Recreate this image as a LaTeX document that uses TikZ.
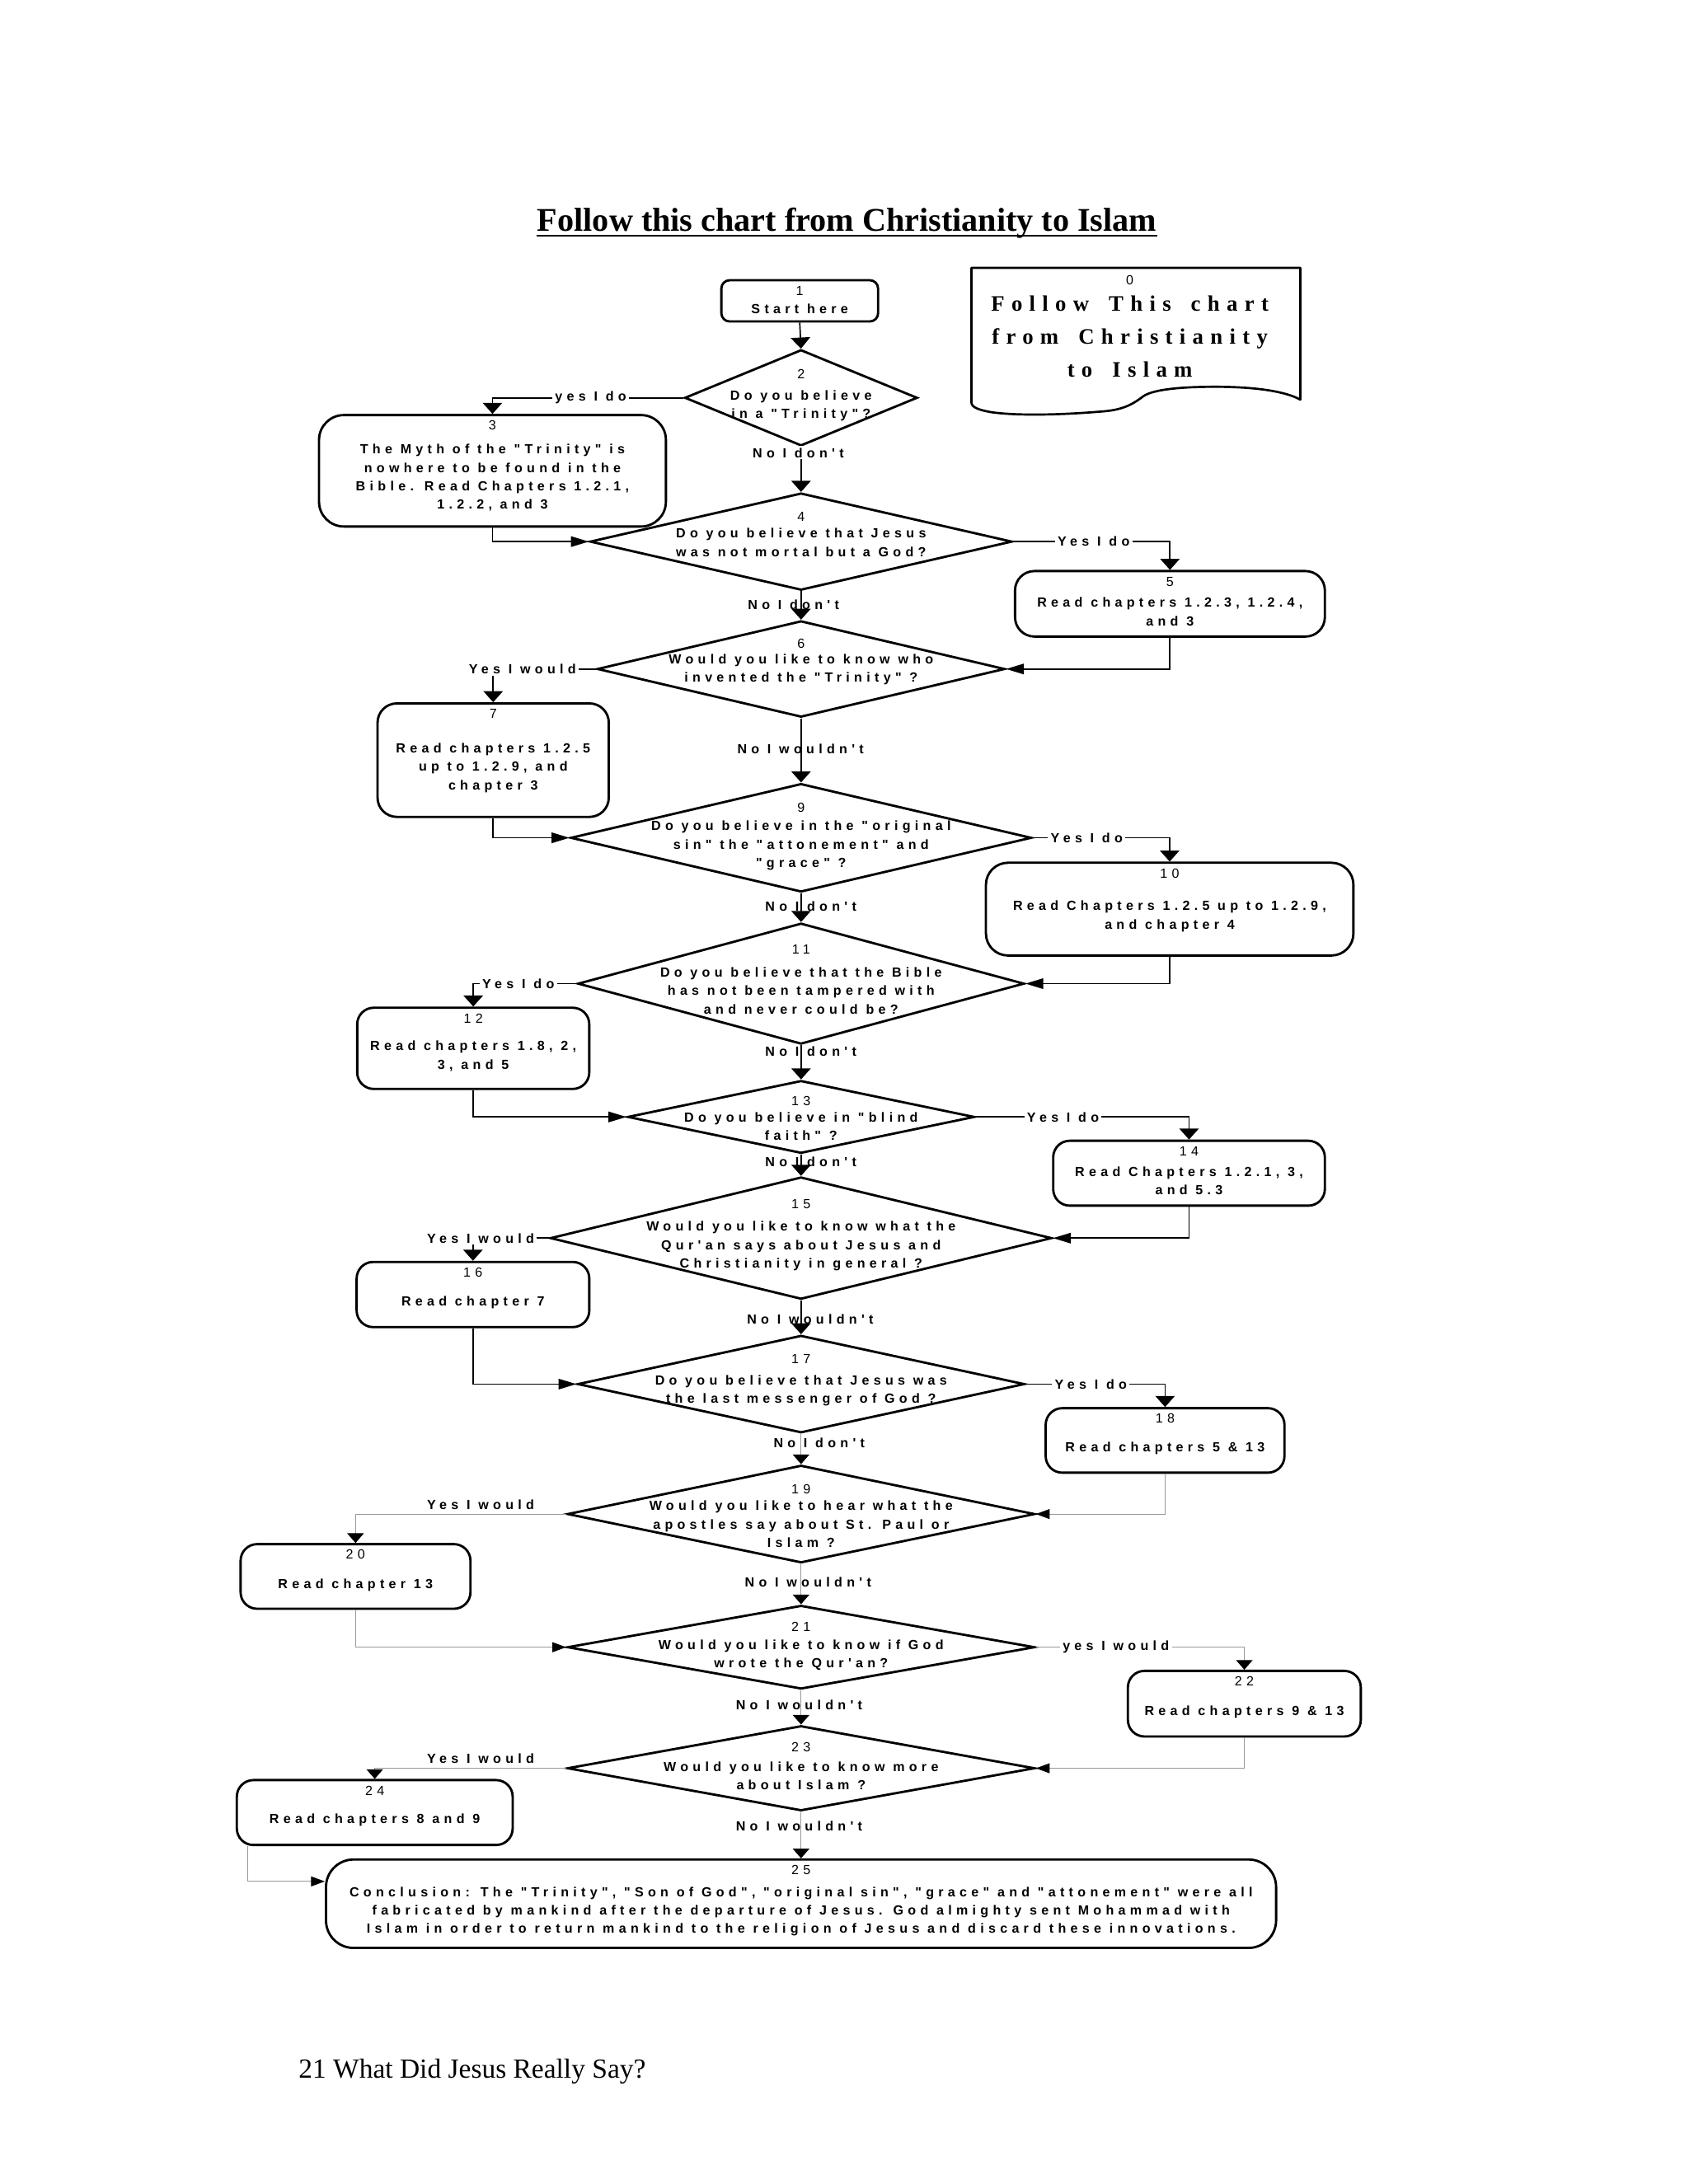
\documentclass[tikz,border=0pt]{standalone}
\usepackage{fontspec}
\usetikzlibrary{shapes.geometric,arrows.meta,calc}
\newfontfamily\chartfont[LetterSpace=33,Ligatures=TeXOff]{Liberation Sans}
\newfontfamily\docfont[LetterSpace=31,WordSpace=1.6,Ligatures=TeXOff]{Liberation Serif}
\newfontfamily\timesfont{Liberation Serif}
\tikzset{
  x=0.50495pt, y=-0.50495pt,
  rbox/.style={draw, line width=0.85pt, rounded corners=6pt, inner sep=0pt},
  diam/.style={draw, diamond, line width=0.85pt, inner sep=0pt},
  txt/.style={font=\chartfont\bfseries\fontsize{4.8}{6.67}\selectfont, align=center, inner sep=0pt},
  num/.style={font=\chartfont\fontsize{4.8}{6.67}\selectfont, inner sep=0pt},
  lab/.style={txt, fill=white, inner xsep=1pt, inner ysep=0.6pt},
  labn/.style={txt},
  conv/.style={line width=0.5pt, -{Triangle[length=4pt,width=7pt]}},
  conh/.style={line width=0.5pt, -{Triangle[length=6.5pt,width=3.8pt]}},
  thv/.style={line width=0.3pt, draw=black!40, -{Triangle[length=3.5pt,width=6pt,color=black,fill=black]}},
  thh/.style={line width=0.3pt, draw=black!40, -{Triangle[length=5pt,width=3.6pt,color=black,fill=black]}},
}
% [style]{name}{left}{top}{right}{bottom}{number}{text y}{text}
\newcommand\rbox[9][]{%
  \node[rbox,#1,minimum width={(#5-#3)*0.50495pt},minimum height={(#6-#4)*0.50495pt}] (#2) at ({(#3+#5)/2},{(#4+#6)/2}) {};
  \node[num] (#2n) at ({(#3+#5)/2},{#4+7.5}) {#7};
  \node[txt] (#2t) at ({(#3+#5)/2},#8) {#9};
}
% {name}{cx}{cy}{half w}{half h}{num y}{num}{text y}{text}
\newcommand\diam[9]{%
  \node[diam,minimum width={2*#4*0.50495pt},minimum height={2*#5*0.50495pt}] (#1) at (#2,#3) {};
  \node[num] (#1n) at (#2,#6) {#7};
  \node[txt] (#1t) at (#2,#8) {#9};
}
\begin{document}
\begin{tikzpicture}
\path[use as bounding box, fill=white] (0,0) rectangle (1212,1568);

% title and footer
\node[font=\timesfont\bfseries\fontsize{12}{14}\selectfont, inner sep=0pt, anchor=base] (title) at (608,165.7) {Follow this chart from Christianity to Islam};
\draw[line width=0.6pt] ([yshift=-1.7pt]title.base west) -- ([yshift=-1.7pt]title.base east);
\node[font=\timesfont\fontsize{10}{12}\selectfont, inner sep=0pt, anchor=base west] (footer) at (214,1492) {21 What Did Jesus Really Say?};

% node 0 (document shape)
\draw[line width=0.8pt, line join=round] (697.3,192.3) -- (933.4,192.3) -- (933.4,287)
  .. controls (925,282) and (905,277.5) .. (870,277.7)
  .. controls (845,277.8) and (826,280) .. (820,285)
  .. controls (812,291) and (805,294.5) .. (790,295.5)
  .. controls (760,298) and (730,298.5) .. (712,296)
  .. controls (703,294.5) and (697.3,292.5) .. (697.3,289) -- cycle;
\node[num] (N0n) at (811,201) {0};
\node[font=\docfont\bfseries\fontsize{8}{12}\selectfont, align=center, inner sep=0pt] (N0t) at (811,241.6) {Follow This chart\\from Christianity\\to Islam};

% boxes
\rbox[rounded corners=3pt]{N1}{517.8}{201.2}{630.3}{230.8}{1}{222}{Start here}
\rbox[rounded corners=9pt]{N3}{229}{298}{478}{378}{3}{343}{The Myth of the "Trinity" is\\nowhere to be found in the\\Bible.  Read Chapters 1.2.1,\\1.2.2, and 3}
\rbox[rounded corners=7pt]{N5}{728.6}{410}{951}{457}{5}{439.2}{Read chapters 1.2.3, 1.2.4,\\and 3}
\rbox[rounded corners=7pt]{N7}{271}{505}{437}{586.5}{7}{551.2}{Read chapters 1.2.5\\up to 1.2.9, and\\chapter 3}
\rbox[rounded corners=8pt]{N10}{707.7}{619.4}{971.5}{686}{10}{657.9}{Read Chapters 1.2.5 up to 1.2.9,\\and chapter 4}
\rbox{N12}{256.4}{723.5}{423}{781.8}{12}{758.2}{Read chapters 1.8, 2,\\3, and 5}
\rbox{N14}{756}{819}{951}{865.6}{14}{847.9}{Read Chapters 1.2.1, 3,\\and 5.3}
\rbox{N16}{256}{906}{423}{952.8}{16}{935}{Read chapter 7}
\rbox{N18}{750.6}{1011}{922}{1057.3}{18}{1039.6}{Read chapters 5 \& 13}
\rbox{N20}{172.7}{1108.6}{337.7}{1155}{20}{1137.8}{Read chapter 13}
\rbox{N22}{809.6}{1199.6}{976.8}{1246.7}{22}{1229}{Read chapters 9 \& 13}
\rbox{N24}{170}{1278}{368}{1324.6}{24}{1306.9}{Read chapters 8 and 9}
\rbox[rounded corners=10pt]{N25}{234}{1335}{916}{1398.5}{25}{1372.3}{Conclusion: The "Trinity", "Son of God", "original sin", "grace" and "attonement" were all\\fabricated by mankind after the departure of Jesus.  God almighty sent Mohammad with\\Islam in order to return mankind to the religion of Jesus and discard these innovations.}

% diamonds
\diam{D2}{575}{285.6}{83.5}{34.5}{268.3}{2}{291.5}{Do you believe\\in a "Trinity"?}
\diam{D4}{575}{388.85}{151.5}{34.85}{370.9}{4}{389.4}{Do you believe that Jesus\\was not mortal but a God?}
\diam{D6}{575}{480.3}{146.3}{34.55}{462}{6}{480.8}{Would you like to know who\\invented the "Trinity" ?}
\diam{D9}{575}{601.5}{165.4}{38.9}{580}{9}{607.1}{Do you believe in the "original\\sin" the "attonement" and\\"grace" ?}
\diam{D11}{575}{706.2}{160.2}{43.4}{681.5}{11}{711.3}{Do you believe that the Bible\\has not been tampered with\\and never could be?}
\diam{D13}{575}{801.9}{124.5}{26.1}{790.6}{13}{808.8}{Do you believe in "blind\\faith" ?}
\diam{D15}{575}{888.9}{180}{43.85}{864.4}{15}{894.6}{Would you like to know what the\\Qur'an says about Jesus and\\Christianity in general ?}
\diam{D17}{575}{993.7}{160.4}{34.95}{975.5}{17}{998.6}{Do you believe that Jesus was\\the last messenger of God ?}
\diam{D19}{575}{1087}{167.75}{35}{1069.2}{19}{1094.3}{Would you like to hear what the\\apostles say about St. Paul or\\Islam ?}
\diam{D21}{575}{1182.6}{167.75}{30}{1168.2}{21}{1188.1}{Would you like to know if God\\wrote the Qur'an?}
\diam{D23}{575}{1269.5}{167.75}{30.5}{1254.6}{23}{1275}{Would you like to know more\\about Islam ?}

% connectors (black)
\draw[conv] (N1.south) -- (D2.north);
\draw[conv] (D2.west) -| (N3.north);
\draw[conv] (D2.south) -- (D4.north);
\draw[conh] (N3.south) |- (D4.west);
\draw[conv] (D4.east) -| (N5.north);
\draw[conv] (D4.south) -- (D6.north);
\draw[conh] (N5.south) |- (D6.east);
\draw[conv] (D6.west) -| (N7.north);
\draw[conv] (D6.south) -- (D9.north);
\draw[conh] (N7.south) |- (D9.west);
\draw[conv] (D9.east) -| (N10.north);
\draw[conv] (D9.south) -- (D11.north);
\draw[conh] (N10.south) |- (D11.east);
\draw[conv] (D11.west) -| (N12.north);
\draw[conv] (D11.south) -- (D13.north);
\draw[conh] (N12.south) |- (D13.west);
\draw[conv] (D13.east) -| (N14.north);
\draw[conv] (D13.south) -- (D15.north);
\draw[conh] (N14.south) |- (D15.east);
\draw[conv] (D15.west) -| (N16.north);
\draw[conv] (D15.south) -- (D17.north);
\draw[conh] (N16.south) |- (D17.west);
\draw[conv] (D17.east) -| (N18.north);
% connectors (thin grey)
\draw[thv] (D17.south) -- (D19.north);
\draw[thh] (N18.south) |- (D19.east);
\draw[thv] (D19.west) -| (N20.north);
\draw[thv] (D19.south) -- (D21.north);
\draw[thh] (N20.south) |- (D21.west);
\draw[thv] (D21.east) -| (N22.north);
\draw[thv] (D21.south) -- (D23.north);
\draw[thh] (N22.south) |- (D23.east);
\draw[thv] (D23.west) -| (N24.north);
\draw[thv] (D23.south) -- (N25.north);
\draw[thh] (N24.south west) ++(8.5,0) |- ($(N25.west)+(0,-16)$);

% connector labels
\node[lab] (L2y) at (424,285.6) {yes I do};
\node[lab] (L2n) at (573,325) {No I don't};
\node[lab] (L4y) at (785,388.85) {Yes I do};
\node[labn] (L4n) at (569.6,434) {No I don't};
\node[lab] (L6y) at (375,480.3) {Yes I would};
\node[labn] (L6n) at (574.6,538) {No I wouldn't};
\node[lab] (L9y) at (780,601.5) {Yes I do};
\node[labn] (L9n) at (582,651) {No I don't};
\node[lab] (L11y) at (372,706.2) {Yes I do};
\node[labn] (L11n) at (582,755) {No I don't};
\node[lab] (L13y) at (763,801.9) {Yes I do};
\node[labn] (L13n) at (582,834) {No I don't};
\node[lab] (L15y) at (345,888.9) {Yes I would};
\node[labn] (L15n) at (581.6,947) {No I wouldn't};
\node[lab] (L17y) at (783,993.7) {Yes I do};
\node[labn] (L17n) at (588,1036) {No I don't};
\node[labn] (L19y) at (345,1080) {Yes I would};
\node[labn] (L19n) at (580,1136) {No I wouldn't};
\node[lab] (L21y) at (801,1182.6) {yes I would};
\node[labn] (L21n) at (573.6,1224) {No I wouldn't};
\node[labn] (L23y) at (345,1262.5) {Yes I would};
\node[labn] (L23n) at (573.6,1311) {No I wouldn't};
\end{tikzpicture}
\end{document}
